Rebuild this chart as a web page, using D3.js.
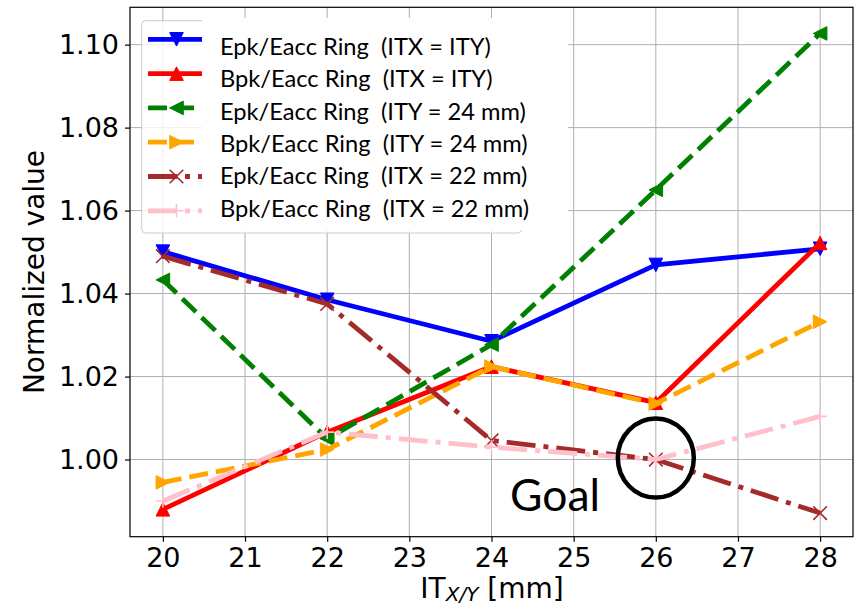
<!DOCTYPE html>
<html>
<head>
<meta charset="utf-8">
<script src="https://cdn.jsdelivr.net/npm/d3@7"></script>
<style>
  body { margin: 0; background: #fff; }
  svg { display: block; }
  text { white-space: pre; }
</style>
</head>
<body>
<div id="chart"></div>
<script>
// --- data ---
const itValues = [20, 22, 24, 26, 28];
const epkRingEqual = [1.0501, 1.0385, 1.0285, 1.0469, 1.0508];
const bpkRingEqual = [0.9880, 1.0066, 1.0224, 1.0137, 1.0522];
const epkRingY24 = [1.0433, 1.0050, 1.0277, 1.0650, 1.1027];
const bpkRingY24 = [0.9945, 1.0024, 1.0224, 1.0135, 1.0332];
const epkRingX22 = [1.0490, 1.0375, 1.0046, 1.0000, 0.9871];
const bpkRingX22 = [0.9900, 1.0066, 1.0030, 1.0000, 1.0104];

const seriesLabels = [
  "Epk/Eacc Ring  (ITX = ITY)",
  "Bpk/Eacc Ring  (ITX = ITY)",
  "Epk/Eacc Ring  (ITY = 24 mm)",
  "Bpk/Eacc Ring  (ITY = 24 mm)",
  "Epk/Eacc Ring  (ITX = 22 mm)",
  "Bpk/Eacc Ring  (ITX = 22 mm)"
];
const xTicks = [20, 21, 22, 23, 24, 25, 26, 27, 28];
const yTicks = [1.00, 1.02, 1.04, 1.06, 1.08, 1.10];
const goalPoint = [26, 1.00];

// styles per series (same order as the labels)
const seriesStyles = [
  { color: "#0000ff", dash: null, marker: "v" },
  { color: "#ff0000", dash: null, marker: "^" },
  { color: "#008000", dash: "19,8", marker: "<" },
  { color: "#ffa500", dash: "19,8", marker: ">" },
  { color: "#a52a2a", dash: "29,8,5,8", marker: "x" },
  { color: "#ffc0cb", dash: "29,8,5,8", marker: "+" }
];
const seriesValues = [epkRingEqual, bpkRingEqual, epkRingY24, bpkRingY24, epkRingX22, bpkRingX22];

const width = 858, height = 608;
const plot = { left: 130, right: 853, top: 7.3, bottom: 536.7 };
const lineWidth = 4.8;

const svg = d3.select("#chart").append("svg")
  .attr("width", width)
  .attr("height", height)
  .attr("viewBox", `0 0 ${width} ${height}`);

const x = d3.scaleLinear().domain([19.6, 28.4]).range([plot.left, plot.right]);
const y = d3.scaleLinear().domain([0.9814, 1.1090]).range([plot.bottom, plot.top]);

// grid
const grid = svg.append("g").attr("stroke", "#b0b0b0").attr("stroke-width", 1);
grid.selectAll(".gx").data(xTicks).enter().append("line")
  .attr("x1", d => x(d)).attr("x2", d => x(d))
  .attr("y1", plot.top).attr("y2", plot.bottom);
grid.selectAll(".gy").data(yTicks).enter().append("line")
  .attr("x1", plot.left).attr("x2", plot.right)
  .attr("y1", d => y(d)).attr("y2", d => y(d));

// marker shapes, s = half size
function markerPath(type, s) {
  switch (type) {
    case "v": return `M${-s},${-s}L${s},${-s}L0,${s}Z`;
    case "^": return `M0,${-s}L${s},${s}L${-s},${s}Z`;
    case "<": return `M${-s},0L${s},${-s}L${s},${s}Z`;
    case ">": return `M${s},0L${-s},${-s}L${-s},${s}Z`;
    case "x": return `M${-s},${-s}L${s},${s}M${-s},${s}L${s},${-s}`;
    case "+": return `M${-s},0L${s},0M0,${-s}L0,${s}`;
  }
}
function drawMarker(g, style, cx, cy) {
  const open = style.marker === "x" || style.marker === "+";
  g.append("path")
    .attr("transform", `translate(${cx},${cy})`)
    .attr("d", markerPath(style.marker, 6.8))
    .attr("fill", open ? "none" : style.color)
    .attr("stroke", style.color)
    .attr("stroke-width", open ? 1.6 : 1)
    .attr("stroke-linejoin", "miter");
}

svg.append("clipPath").attr("id", "plotClip")
  .append("rect")
  .attr("x", plot.left).attr("y", plot.top)
  .attr("width", plot.right - plot.left).attr("height", plot.bottom - plot.top);

const lineGen = d3.line().x(d => x(d[0])).y(d => y(d[1]));
const series = svg.append("g").attr("clip-path", "url(#plotClip)");

seriesValues.forEach((vals, i) => {
  const style = seriesStyles[i];
  const pts = itValues.map((v, j) => [v, vals[j]]);
  const g = series.append("g");
  g.append("path")
    .datum(pts)
    .attr("d", lineGen)
    .attr("fill", "none")
    .attr("stroke", style.color)
    .attr("stroke-width", lineWidth)
    .attr("stroke-linejoin", "round")
    .attr("stroke-dasharray", style.dash);
  pts.forEach(p => drawMarker(g, style, x(p[0]), y(p[1])));
});

// axes
const xAxis = svg.append("g")
  .attr("transform", `translate(0,${plot.bottom})`)
  .call(d3.axisBottom(x).tickValues(xTicks).tickSize(5).tickPadding(6).tickFormat(d3.format("d")));
const yAxis = svg.append("g")
  .attr("transform", `translate(${plot.left},0)`)
  .call(d3.axisLeft(y).tickValues(yTicks).tickSize(5).tickPadding(6).tickFormat(d3.format(".2f")));
[xAxis, yAxis].forEach(a => {
  a.select(".domain").remove();
  a.selectAll(".tick line").attr("stroke", "#000").attr("stroke-width", 1.2);
  a.selectAll(".tick text")
    .attr("fill", "#000")
    .style("font-family", "'DejaVu Sans', sans-serif")
    .style("font-size", "27px");
});

// frame
svg.append("rect")
  .attr("x", plot.left).attr("y", plot.top)
  .attr("width", plot.right - plot.left).attr("height", plot.bottom - plot.top)
  .attr("fill", "none").attr("stroke", "#000").attr("stroke-width", 1.2);

// axis labels
svg.append("text")
  .attr("transform", `translate(44,${(plot.top + plot.bottom) / 2}) rotate(-90)`)
  .attr("text-anchor", "middle")
  .style("font-family", "'DejaVu Sans', sans-serif")
  .style("font-size", "28px")
  .text("Normalized value");

const xLabel = svg.append("text")
  .attr("x", 492).attr("y", 598)
  .attr("text-anchor", "middle")
  .style("font-family", "'DejaVu Sans', sans-serif")
  .style("font-size", "28px");
xLabel.append("tspan").text("IT");
xLabel.append("tspan").attr("dy", 3).style("font-size", "20px").style("font-style", "italic").text("X/Y");
xLabel.append("tspan").attr("dy", -3).text(" [mm]");

// legend
const legend = svg.append("g");
legend.append("rect")
  .attr("x", 141.7).attr("y", 20.7).attr("width", 380).attr("height", 212.3)
  .attr("rx", 4)
  .attr("fill", "#fff").attr("fill-opacity", 0.8)
  .attr("stroke", "#cccccc").attr("stroke-width", 1);

seriesStyles.forEach((style, i) => {
  const cy = 39.3 + i * 34.3;
  legend.append("line")
    .attr("x1", 148).attr("x2", 205)
    .attr("y1", cy).attr("y2", cy)
    .attr("stroke", style.color)
    .attr("stroke-width", lineWidth)
    .attr("stroke-dasharray", style.dash);
  drawMarker(legend, style, 176.5, cy);
});

// pasted label block covering the right part of the legend
legend.append("rect")
  .attr("x", 202).attr("y", 18).attr("width", 366).attr("height", 212)
  .attr("fill", "#fff");

const legendFont = "Lato, 'Open Sans', sans-serif";
const labels = legend.selectAll(".lab").data(seriesLabels).enter().append("text")
  .attr("x", 220)
  .attr("y", (d, i) => 55 + i * 32.3)
  .style("font-family", legendFont)
  .style("font-size", "24px")
  .attr("fill", "#000")
  .text(d => d);
// fit the font size so the first row spans the measured width
const firstWidth = labels.node().getComputedTextLength();
labels.style("font-size", (24 * 271 / firstWidth) + "px");

// goal annotation
const goal = svg.append("text")
  .attr("x", 510)
  .attr("y", 511)
  .style("font-family", legendFont)
  .style("font-size", "46px")
  .attr("fill", "#000")
  .text("Goal");
const gw = goal.node().getComputedTextLength();
goal.style("font-size", (46 * 90 / gw) + "px");

svg.append("ellipse")
  .attr("cx", x(goalPoint[0]))
  .attr("cy", y(goalPoint[1]) - 1.5)
  .attr("rx", 38).attr("ry", 39.5)
  .attr("fill", "none")
  .attr("stroke", "#000")
  .attr("stroke-width", 4.5);
</script>
</body>
</html>
